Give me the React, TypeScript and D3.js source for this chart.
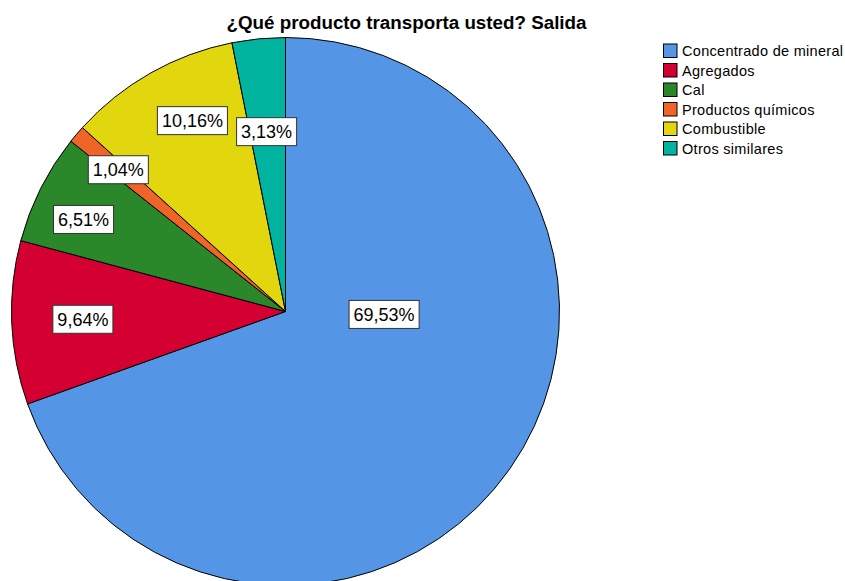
import React from "react";
import * as d3 from "d3";

const categories = [
  "Concentrado de mineral",
  "Agregados",
  "Cal",
  "Productos químicos",
  "Combustible",
  "Otros similares",
];
const values = [69.53, 9.64, 6.51, 1.04, 10.16, 3.13];
const labels = ["69,53%", "9,64%", "6,51%", "1,04%", "10,16%", "3,13%"];
const colors = ["#5595e5", "#d40032", "#2a872a", "#f06428", "#e2d60e", "#00b4a0"];

// label placement (angle in degrees clockwise from top, radius fraction)
const labelPlacement: [number, number][] = [
  [91.7, 0.36],
  [267.8, 0.74],
  [294.5, 0.81],
  [310.3, 0.8],
  [334, 0.775],
  [354, 0.66],
];

const W = 845;
const H = 581;
const cx = 285.5;
const cy = 311.5;
const R = 274;
const LABEL_FS = 18;

function textWidth(s: string, fs: number) {
  let w = 0;
  for (const ch of s) {
    if (ch === ",") w += 0.278;
    else if (ch === "%") w += 0.889;
    else w += 0.556;
  }
  return w * fs;
}

export default function App() {
  const pie = d3.pie<number>().sort(null).value((d) => d);
  const arcs = pie(values);
  const arcGen = d3.arc<d3.PieArcDatum<number>>().innerRadius(0).outerRadius(R);

  return (
    <svg
      width={W}
      height={H}
      style={{ position: "absolute", left: 0, top: 0, background: "#fff" }}
      fontFamily="Arial, 'Liberation Sans', sans-serif"
    >
      <text x={406.5} y={29} textAnchor="middle" fontWeight="bold" fontSize={18.8} fill="#000">
        ¿Qué producto transporta usted? Salida
      </text>
      <g transform={`translate(${cx},${cy})`}>
        {arcs.map((a, i) => (
          <path key={i} d={arcGen(a) || ""} fill={colors[i]} stroke="#000" strokeWidth={1} />
        ))}
        {arcs.map((a, i) => {
          const [ang, rf] = labelPlacement[i];
          const t = (ang * Math.PI) / 180;
          const x = Math.sin(t) * R * rf;
          const y = -Math.cos(t) * R * rf;
          const w = textWidth(labels[i], LABEL_FS) + 9;
          const h = 28;
          return (
            <g key={"l" + i} transform={`translate(${x},${y})`}>
              <rect x={-w / 2} y={-h / 2} width={w} height={h} fill="#fff" stroke="#333" strokeWidth={1} />
              <text x={0} y={6.5} textAnchor="middle" fontSize={LABEL_FS} fill="#000">
                {labels[i]}
              </text>
            </g>
          );
        })}
      </g>
      <g transform="translate(663.5,44)">
        {categories.map((c, i) => (
          <g key={c} transform={`translate(0,${i * 19.5})`}>
            <rect x={0} y={0} width={13.5} height={13.5} fill={colors[i]} stroke="#000" strokeWidth={1} />
            <text x={18.5} y={12} fontSize={14.5} letterSpacing={0.3} fill="#000">
              {c}
            </text>
          </g>
        ))}
      </g>
    </svg>
  );
}
